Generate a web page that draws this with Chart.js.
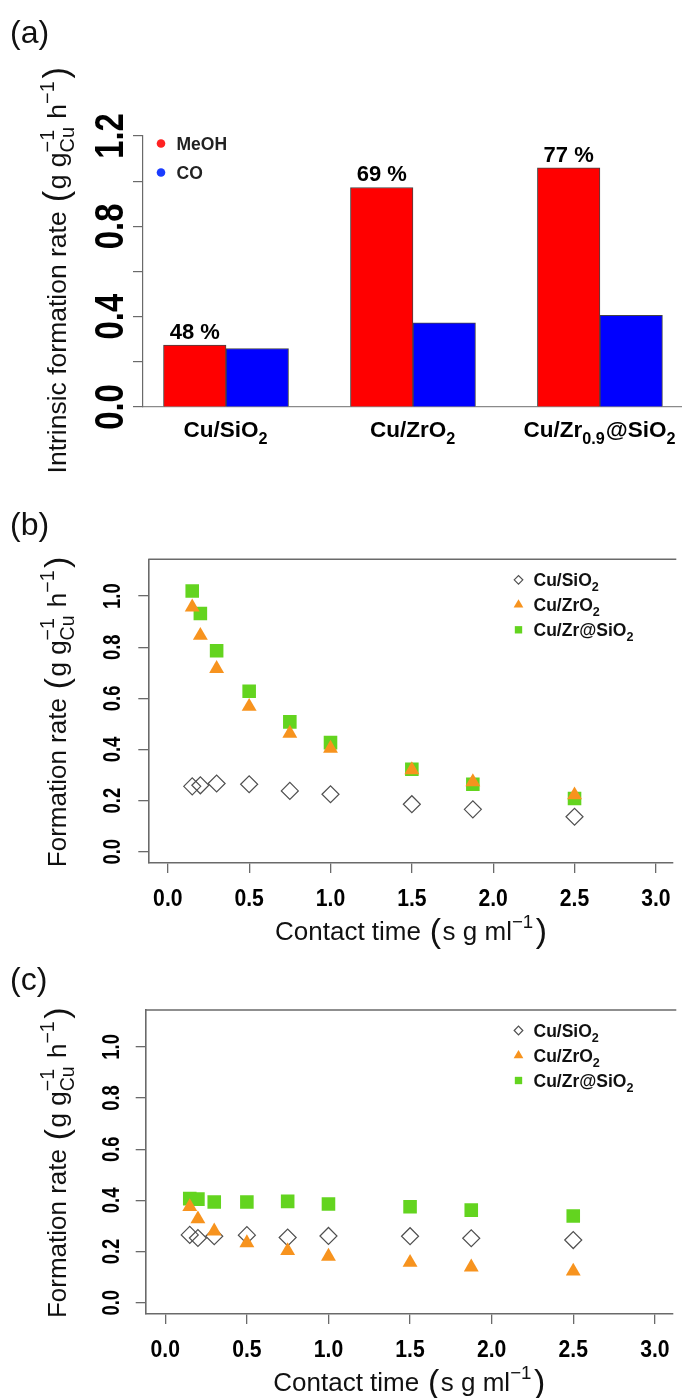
<!DOCTYPE html>
<html>
<head>
<meta charset="utf-8">
<script src="https://cdn.jsdelivr.net/npm/chart.js@4.4.0/dist/chart.umd.min.js"></script>
<style>
	html, body { margin: 0; padding: 0; background: #fff; }
	#page { position: relative; width: 682px; height: 1398px; overflow: hidden; }
	canvas { position: absolute; left: 0; }
</style>
</head>
<body>
<div id="page">
	<canvas id="chartA" width="682" height="480" style="top:0"></canvas>
	<canvas id="chartB" width="682" height="470" style="top:480px"></canvas>
	<canvas id="chartC" width="682" height="448" style="top:950px"></canvas>
</div>
<script>
const FAMILY = '"Liberation Sans", Arial, Helvetica, sans-serif';
const AXIS_GREY = "#6a6a6a";

// (a) intrinsic formation rates
const barCats = ["Cu/SiO_2", "Cu/ZrO_2", "Cu/Zr_{0.9}@SiO_2"];
const barPos = [1, 2, 3];
const meohRate = [0.274, 0.972, 1.059];
const coRate = [0.259, 0.373, 0.406];
const meohSelectivity = ["48 %", "69 %", "77 %"];
const barTicks = [0, 0.2, 0.4, 0.6, 0.8, 1.0, 1.2];
const barTickLabels = ["0.0", "", "0.4", "", "0.8", "", "1.2"];

// (b) and (c) formation rate vs contact time
const contactTime = [0.15, 0.2, 0.3, 0.5, 0.75, 1.0, 1.5, 1.875, 2.5];
const b_CuSiO2 = [0.256, 0.26, 0.267, 0.264, 0.238, 0.225, 0.186, 0.166, 0.137];
const b_CuZrO2 = [0.957, 0.846, 0.716, 0.568, 0.463, 0.404, 0.32, 0.273, 0.222];
const b_CuZrSiO2 = [1.02, 0.932, 0.786, 0.628, 0.508, 0.427, 0.323, 0.264, 0.208];
const c_CuSiO2 = [0.265, 0.253, 0.26, 0.264, 0.255, 0.261, 0.26, 0.252, 0.245];
const c_CuZrO2 = [0.375, 0.327, 0.28, 0.234, 0.203, 0.181, 0.157, 0.139, 0.123];
const c_CuZrSiO2 = [0.407, 0.405, 0.394, 0.394, 0.396, 0.386, 0.375, 0.362, 0.339];
const seriesNames = ["Cu/SiO_2", "Cu/ZrO_2", "Cu/Zr@SiO_2"];
const timeTicks = [0, 0.5, 1.0, 1.5, 2.0, 2.5, 3.0];
const rateTicks = [0, 0.2, 0.4, 0.6, 0.8, 1.0];

// split "Cu/SiO_2" style strings into normal / sub / sup pieces
function parseRich(s) {
	const parts = [];
	let buf = "";
	let i = 0;
	const flush = () => {
		if (buf) parts.push({ k: "n", t: buf });
		buf = "";
	};
	while (i < s.length) {
		const c = s[i];
		if (c === "_" || c === "^") {
			flush();
			let txt;
			if (s[i + 1] === "{") {
				const j = s.indexOf("}", i);
				txt = s.slice(i + 2, j);
				i = j + 1;
			} else {
				txt = s[i + 1];
				i += 2;
			}
			const k = c === "_" ? "sub" : "sup";
			const prev = parts[parts.length - 1];
			if (prev && (prev.k === "sub" || prev.k === "sup") && prev.k !== k) {
				prev[k] = txt;
				prev.k = "both";
			} else {
				parts.push({ k: k, [k]: txt });
			}
		} else if (c === "(" || c === ")") {
			flush();
			parts.push({ k: "paren", t: c });
			i++;
		} else {
			buf += c;
			i++;
		}
	}
	flush();
	return parts;
}

function drawRich(ctx, str, x, y, o) {
	const S = o.size;
	const W = o.weight || "normal";
	const font = (sz) => `${W} ${sz}px ${FAMILY}`;
	const items = [];
	let total = 0;
	parseRich(str).forEach((p) => {
		if (p.k === "n") {
			ctx.font = font(S);
			items.push({ t: p.t, sz: S, dx: total, dy: 0 });
			total += ctx.measureText(p.t).width;
		} else if (p.k === "paren") {
			const sz = o.bigParen ? S * 1.3 : S;
			const gap = o.bigParen ? S * 0.06 : 0;
			ctx.font = font(sz);
			items.push({ t: p.t, sz: sz, dx: total + gap, dy: o.bigParen ? S * 0.08 : 0 });
			total += ctx.measureText(p.t).width + gap * 2;
		} else {
			const sz = S * (o.scriptScale || 0.72);
			ctx.font = font(sz);
			let w = 0;
			if (p.sub !== undefined) {
				items.push({ t: p.sub, sz: sz, dx: total, dy: S * 0.3 });
				w = Math.max(w, ctx.measureText(p.sub).width);
			}
			if (p.sup !== undefined) {
				items.push({ t: p.sup, sz: sz, dx: total, dy: -S * 0.45 });
				w = Math.max(w, ctx.measureText(p.sup).width);
			}
			total += w + S * 0.04;
		}
	});
	ctx.save();
	ctx.translate(x, y);
	if (o.rotate) ctx.rotate(-Math.PI / 2);
	ctx.scale(o.hscale || 1, 1);
	ctx.fillStyle = o.color || "#111";
	ctx.textAlign = "left";
	ctx.textBaseline = "alphabetic";
	const x0 = o.align === "left" ? 0 : -total / 2;
	items.forEach((it) => {
		ctx.font = font(it.sz);
		ctx.fillText(it.t, x0 + it.dx, it.dy);
	});
	ctx.restore();
}

function drawMarker(ctx, style, x, y, r, fill, stroke) {
	ctx.save();
	ctx.beginPath();
	if (style === "rectRot") {
		ctx.moveTo(x - r, y);
		ctx.lineTo(x, y - r);
		ctx.lineTo(x + r, y);
		ctx.lineTo(x, y + r);
		ctx.closePath();
	} else if (style === "triangle") {
		ctx.moveTo(x, y - r);
		ctx.lineTo(x + r * 0.866, y + r * 0.5);
		ctx.lineTo(x - r * 0.866, y + r * 0.5);
		ctx.closePath();
	} else if (style === "rect") {
		const h = r * Math.SQRT1_2;
		ctx.rect(x - h, y - h, 2 * h, 2 * h);
	} else {
		ctx.arc(x, y, r, 0, Math.PI * 2);
	}
	if (fill) {
		ctx.fillStyle = fill;
		ctx.fill();
	}
	if (stroke) {
		ctx.strokeStyle = stroke;
		ctx.lineWidth = 1.2;
		ctx.stroke();
	}
	ctx.restore();
}

function panelTag(ctx, txt, baseline) {
	ctx.save();
	ctx.font = `32px ${FAMILY}`;
	ctx.fillStyle = "#111";
	ctx.textAlign = "left";
	ctx.fillText(txt, 10, baseline);
	ctx.restore();
}

// ---------- (a) bar chart ----------
new Chart(document.getElementById("chartA"), {
	type: "bar",
	data: {
		datasets: [
			{
				label: "MeOH",
				data: barPos.map((x, i) => ({ x: x, y: meohRate[i] })),
				backgroundColor: "#ff0000",
				borderColor: "#444",
				borderWidth: 1,
			},
			{
				label: "CO",
				data: barPos.map((x, i) => ({ x: x, y: coRate[i] })),
				backgroundColor: "#0000ff",
				borderColor: "#444",
				borderWidth: 1,
			},
		],
	},
	options: {
		responsive: false,
		animation: false,
		events: [],
		barThickness: 62.5,
		layout: { padding: { left: 143, top: 136, right: 0, bottom: 73 } },
		plugins: { legend: { display: false }, tooltip: { enabled: false } },
		scales: {
			x: {
				type: "linear",
				min: 0.556,
				max: 3.439,
				offset: false,
				ticks: { display: false },
				grid: { display: false, offset: false },
				border: { color: "#8a8a8a", width: 1.2 },
				afterFit: (s) => { s.height = 0; },
			},
			y: {
				min: 0,
				max: 1.2,
				ticks: { display: false },
				grid: { drawOnChartArea: false, tickLength: 10, color: AXIS_GREY, lineWidth: 1.2 },
				border: { color: AXIS_GREY, width: 1.2 },
				afterBuildTicks: (s) => { s.ticks = barTicks.map((v) => ({ value: v })); },
				afterFit: (s) => { s.width = 0; },
			},
		},
	},
	plugins: [
		{
			id: "textA",
			afterDraw(chart) {
				const ctx = chart.ctx;
				const xs = chart.scales.x;
				const ys = chart.scales.y;
				panelTag(ctx, "(a)", 43);
				// y tick labels, rotated like the original
				barTicks.forEach((v, i) => {
					if (!barTickLabels[i]) return;
					drawRich(ctx, barTickLabels[i], 123, ys.getPixelForValue(v), {
						size: 40, weight: "bold", rotate: true, hscale: 0.82, color: "#000",
					});
				});
				drawRich(ctx, "Intrinsic formation rate (g g_{Cu}^{−1} h^{−1})", 66, (ys.top + ys.bottom) / 2 - 2, {
					size: 26.5, rotate: true, bigParen: true, scriptScale: 0.75,
				});
				// category labels
				barCats.forEach((c, i) => {
					drawRich(ctx, c, xs.getPixelForValue(barPos[i]), 437, { size: 22.5, weight: "bold", color: "#000" });
				});
				// selectivity above MeOH bars
				chart.getDatasetMeta(0).data.forEach((bar, i) => {
					drawRich(ctx, meohSelectivity[i], bar.x, bar.y - 6, { size: 22, weight: "bold", color: "#000" });
				});
				// legend
				const leg = [["MeOH", "#f22"], ["CO", "#1a3cff"]];
				leg.forEach((l, i) => {
					const y = 143.5 + i * 29;
					drawMarker(ctx, "circle", 161, y, 4.3, l[1], null);
					drawRich(ctx, l[0], 176.5, y + 6.3, { size: 17.5, weight: "bold", align: "left", color: "#222" });
				});
			},
		},
	],
});

// ---------- (b) and (c) scatter charts ----------
function scatterPanel(id, tag, tagBase, ys, area) {
	const styles = [
		{ pointStyle: "rectRot", radius: 8.5, fill: "rgba(0,0,0,0)", stroke: "#505050", order: 2, legR: 4.3 },
		{ pointStyle: "triangle", radius: 8.6, fill: "#f7931e", stroke: null, order: 0, legR: 5.6 },
		{ pointStyle: "rect", radius: 9.6, fill: "#63d41f", stroke: null, order: 1, legR: 5.2 },
	];
	const canvas = document.getElementById(id);
	new Chart(canvas, {
		type: "scatter",
		data: {
			datasets: ys.map((vals, k) => ({
				label: seriesNames[k],
				data: contactTime.map((x, i) => ({ x: x, y: vals[i] })),
				pointStyle: styles[k].pointStyle,
				pointRadius: styles[k].radius,
				backgroundColor: styles[k].fill,
				borderColor: styles[k].stroke || styles[k].fill,
				borderWidth: styles[k].stroke ? 1.2 : 0,
				order: styles[k].order,
			})),
		},
		options: {
			responsive: false,
			animation: false,
			events: [],
			layout: { padding: { left: area.left, top: area.top, right: 0, bottom: canvas.height - area.bottom } },
			plugins: { legend: { display: false }, tooltip: { enabled: false } },
			scales: {
				x: {
					type: "linear",
					min: -0.12,
					max: area.xMax,
					ticks: { display: false },
					grid: { drawOnChartArea: false, tickLength: 10, color: AXIS_GREY, lineWidth: 1.3 },
					border: { color: AXIS_GREY, width: 1.6 },
					afterBuildTicks: (s) => { s.ticks = timeTicks.map((v) => ({ value: v })); },
					afterFit: (s) => { s.height = 0; },
				},
				y: {
					min: -0.044,
					max: 1.144,
					ticks: { display: false },
					grid: { drawOnChartArea: false, tickLength: 10, color: AXIS_GREY, lineWidth: 1.3 },
					border: { color: AXIS_GREY, width: 1.6 },
					afterBuildTicks: (s) => { s.ticks = rateTicks.map((v) => ({ value: v })); },
					afterFit: (s) => { s.width = 0; },
				},
			},
		},
		plugins: [
			{
				id: "text_" + id,
				afterDraw(chart) {
					const ctx = chart.ctx;
					const xs = chart.scales.x;
					const yy = chart.scales.y;
					const ca = chart.chartArea;
					panelTag(ctx, tag, tagBase);
					// top edge of the box
					ctx.save();
					ctx.strokeStyle = AXIS_GREY;
					ctx.lineWidth = 1.6;
					ctx.beginPath();
					ctx.moveTo(ca.left, ca.top);
					ctx.lineTo(ca.right + 4, ca.top);
					ctx.stroke();
					ctx.restore();
					rateTicks.forEach((v) => {
						drawRich(ctx, v.toFixed(1), area.yLabelX, yy.getPixelForValue(v), {
							size: 23, weight: "bold", rotate: true, hscale: 0.8, color: "#000",
						});
					});
					timeTicks.forEach((v) => {
						drawRich(ctx, v.toFixed(1), xs.getPixelForValue(v), ca.bottom + 43, {
							size: 23.5, weight: "bold", hscale: 0.9, color: "#000",
						});
					});
					drawRich(ctx, "Formation rate (g g_{Cu}^{−1} h^{−1})", 66, (ca.top + ca.bottom) / 2, {
						size: 26, rotate: true, bigParen: true, scriptScale: 0.75,
					});
					drawRich(ctx, "Contact time (s g ml^{−1})", (ca.left + xs.getPixelForValue(3.12)) / 2, ca.bottom + 77, {
						size: 26, bigParen: true, scriptScale: 0.72,
					});
					// legend
					styles.forEach((st, k) => {
						const y = ca.top + 20.5 + k * 25;
						drawMarker(ctx, st.pointStyle, 518.5, y, st.legR, st.stroke ? null : st.fill, st.stroke);
						drawRich(ctx, seriesNames[k], 533.5, y + 6.3, { size: 17.5, weight: "bold", align: "left", color: "#111" });
					});
				},
			},
		],
	});
}

scatterPanel("chartB", "(b)", 55, [b_CuSiO2, b_CuZrO2, b_CuZrSiO2],
	{ left: 148.3, top: 79.3, bottom: 383, xMax: 3.101, yLabelX: 120 });
scatterPanel("chartC", "(c)", 40, [c_CuSiO2, c_CuZrO2, c_CuZrSiO2],
	{ left: 145.7, top: 60, bottom: 364, xMax: 3.107, yLabelX: 118.5 });
</script>
</body>
</html>
